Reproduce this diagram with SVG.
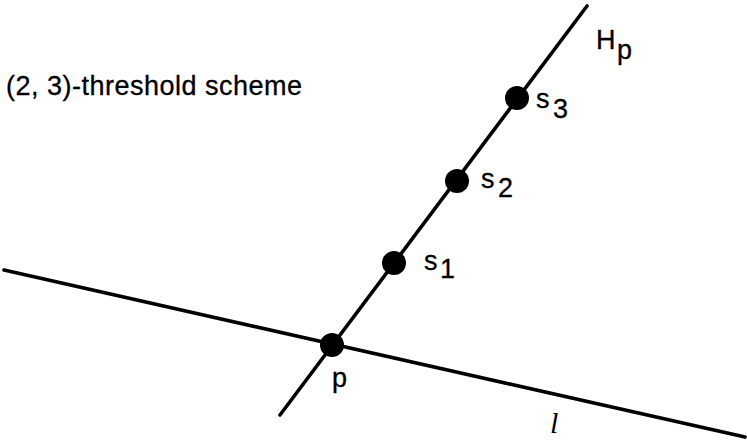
<svg xmlns="http://www.w3.org/2000/svg" width="747" height="445" viewBox="0 0 747 445">
<style>
.ln{stroke:#000;stroke-width:3.6;fill:none;stroke-linecap:round}
.dot{fill:#000}
.t{font-family:"Liberation Sans",Arial,sans-serif;font-size:27px;fill:#000;stroke:#000;stroke-width:0.3}
</style>
<rect width="747" height="445" fill="#fff"/>
<g id="connectors">
<line class="ln" x1="4" y1="270" x2="745" y2="437"/>
<line class="ln" x1="280" y1="415" x2="587" y2="6"/>
</g>
<g id="title"><text class="t" x="6" y="95" textLength="296" lengthAdjust="spacing">(2, 3)-threshold scheme</text></g>
<g id="Hp"><text class="t" x="596" y="49">H</text><text class="t" x="617" y="59">p</text></g>
<g id="s3"><circle class="dot" cx="517" cy="98" r="12"/><text class="t" x="536" y="108">s</text><text class="t" x="553" y="118">3</text></g>
<g id="s2"><circle class="dot" cx="457" cy="181" r="12"/><text class="t" x="481" y="188">s</text><text class="t" x="498" y="197">2</text></g>
<g id="s1"><circle class="dot" cx="394" cy="263" r="12"/><text class="t" x="424" y="270">s</text><text class="t" x="440" y="278">1</text></g>
<g id="p"><circle class="dot" cx="332" cy="345" r="12"/><text class="t" x="332" y="387">p</text></g>
<g id="l"><text x="550" y="433" font-family="Liberation Serif,serif" font-style="italic" font-size="30">l</text></g>
</svg>
